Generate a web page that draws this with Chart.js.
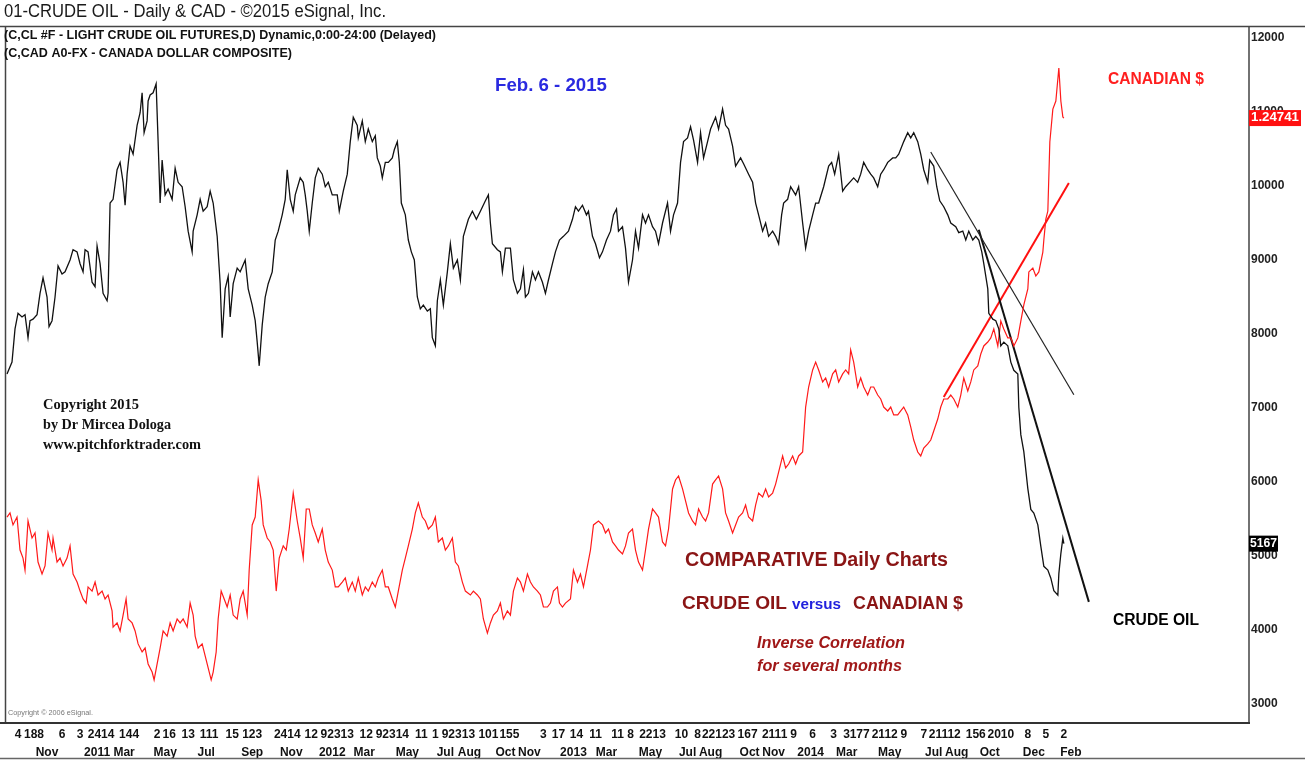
<!DOCTYPE html>
<html>
<head>
<meta charset="utf-8">
<script src="https://cdn.jsdelivr.net/npm/chart.js@4.4.1/dist/chart.umd.min.js"></script>
<style>
html, body { margin: 0; padding: 0; background: #fff; }
#wrap { width: 1305px; height: 760px; }
</style>
</head>
<body>
<div id="wrap"><canvas id="chart" width="1305" height="760"></canvas></div>
<script>
'use strict';

// x unit = bar index (about one week per unit)
const oilIdx = [
  0.2,1.2,1.8,2.4,3.2,3.8,4.4,4.8,5.4,6.2,
  6.8,7.4,8.2,8.6,9.2,9.8,10.4,11.2,11.8,12.8,
  13.4,14.2,14.8,15.4,15.8,16.4,17.2,17.8,18.2,18.8,
  19.4,20.2,20.4,20.8,21.4,22.2,22.8,23.4,23.8,24.2,
  24.8,25.4,26.2,26.8,27.2,27.6,28.2,28.4,28.8,29.4,
  30.0,30.4,30.8,31.2,31.8,32.4,33.2,33.8,34.4,35.2,
  35.8,36.4,37.2,37.4,38.2,38.8,39.4,40.2,40.8,41.4,
  42.2,42.8,43.2,43.8,44.4,44.8,45.4,46.2,46.8,47.8,
  48.4,49.2,49.8,50.2,50.6,51.2,51.8,52.4,53.2,53.8,
  54.4,55.2,55.8,56.2,56.8,57.4,57.8,58.8,59.4,59.8,
  60.2,60.6,61.2,61.8,62.4,63.2,63.8,64.4,65.2,66.2,
  66.6,67.4,68.2,68.8,69.4,70.2,70.4,71.2,71.8,72.4,
  73.2,73.8,74.2,74.8,75.2,75.8,76.4,77.2,77.6,78.2,
  78.6,79.0,79.8,80.4,81.0,81.6,82.2,82.8,83.4,84.2,
  84.8,85.2,85.8,86.2,86.8,87.4,88.2,88.8,89.4,90.2,
  90.8,91.4,92.4,93.2,94.0,94.8,95.8,96.4,96.8,97.2,
  98.2,98.8,99.2,99.8,100.8,101.4,102.2,102.8,103.4,103.8,
  104.4,105.2,105.8,106.4,107.2,107.8,108.4,109.2,109.8,110.6,
  111.4,112.4,113.2,113.8,114.4,115.2,116.0,116.4,117.2,117.8,
  118.6,119.2,120.0,120.8,121.4,122.0,122.4,123.2,123.8,124.4,
  125.2,125.8,126.4,127.2,127.8,128.4,129.2,129.8,130.4,131.2,
  132.2,132.8,133.4,134.2,134.8,135.4,136.2,136.8,137.4,138.2,
  138.8,139.4,140.2,140.8,141.8,142.4,143.2,143.8,144.4,145.2,
  145.8,146.8,147.4,148.4,149.2,149.8,150.4,151.2,151.8,152.4,
  153.2,153.8,154.4,155.0,155.4,156.2,156.8,157.8,158.4,159.2,
  159.8,160.4,161.2,161.8,162.4,163.4,164.4,165.0,165.6,166.4,
  167.2,167.8,168.6,169.4,170.2,170.8,171.4,172.2,172.8,173.4,
  174.2,174.8,175.4,176.2,177.2,177.8,178.4,179.4,180.2,180.8,
  181.4,182.2,182.8,183.4,184.2,184.6,185.4,186.0,186.6,187.4,
  188.2,188.8,189.8,190.4,191.2,191.8,192.4,193.2,193.8,194.4,
  195.0,195.4,196.2,196.4,197.2,197.8,198.4,198.8,199.4,200.2,
  200.8,201.4,202.2,202.4,202.8,203.4,204.2,204.8,205.4,206.2,
  206.8,207.4,208.2,208.8,209.4,210.2,210.4,210.8,211.2,211.4
];
const oilClose = [
  7460,7620,8070,8280,8230,8260,7950,8180,8200,8260,
  8550,8760,8500,8100,8180,8500,8920,8810,8840,9000,
  9140,9110,8950,8840,9140,9110,8700,8640,9190,8950,
  8550,8450,8550,9770,9820,10220,10320,10050,9740,10160,
  10540,10430,10820,10990,11260,10720,10880,11150,11230,11260,
  11380,10600,9770,10350,9880,9960,9820,10240,10050,9990,
  9720,9390,9110,9390,9610,9820,9660,9720,9930,9770,
  9320,8680,7950,8610,8780,8230,8680,8890,8840,9000,
  8610,8390,8180,7890,7570,8120,8500,8680,8840,9270,
  9390,9610,9820,10220,9820,9660,9880,10110,10050,9880,
  9660,9390,9770,10110,10240,10160,9990,10050,9880,9880,
  9660,9930,10160,10600,10930,10820,10650,10880,10600,10770,
  10600,10680,10380,10270,10110,10320,10320,10380,10490,10600,
  10320,9770,9610,9270,9110,9000,8500,8340,8390,8310,
  8340,7950,7840,8450,8730,8390,8840,9220,8890,9000,
  8730,9320,9550,9660,9550,9660,9800,9880,9500,9220,
  9140,9110,8840,9160,9160,8730,8550,8610,8870,8500,
  8550,8840,8730,8840,8700,8550,8730,8950,9110,9270,
  9320,9390,9550,9720,9660,9740,9610,9660,9320,9220,
  9030,9110,9270,9390,9610,9690,9390,9450,9160,8700,
  9000,9390,9160,9610,9500,9610,9450,9390,9220,9500,
  9770,9390,9610,9770,10320,10600,10650,10800,10620,10320,
  10720,10380,10600,10770,10930,10770,11040,10820,10770,10540,
  10270,10380,10300,10160,10050,9770,9610,9390,9500,9320,
  9390,9320,9220,9610,9770,9820,9990,9880,9990,9500,
  9160,9390,9610,9770,9770,9990,10270,10320,10160,10430,
  9930,9990,10050,10110,10050,10160,10320,10220,10160,10110,
  9990,10160,10220,10320,10380,10380,10430,10600,10720,10650,
  10720,10600,10430,10220,10050,10350,10270,9990,9800,9720,
  9610,9500,9450,9370,9390,9270,9390,9270,9320,9270,
  9110,8950,8610,8280,8200,8180,8070,7840,7890,7840,
  7620,7510,7460,7010,6640,6410,5910,5630,5580,5420,
  5130,4860,4810,4700,4530,4470,4760,5030,5240,5167
];

const cadIdx = [
  0.2,0.8,1.4,2.2,2.8,3.4,3.8,4.4,5.2,5.8,
  6.4,7.2,7.8,8.4,9.2,9.4,10.2,10.8,11.4,12.2,
  12.8,13.4,14.2,14.8,15.4,16.0,16.4,17.2,17.8,18.4,
  19.2,19.8,20.4,21.2,21.4,22.2,22.8,23.4,24.0,24.4,
  25.2,25.8,26.4,27.2,27.8,28.4,29.2,29.6,30.2,30.8,
  31.4,32.2,32.8,33.4,34.2,34.8,35.4,36.2,36.8,37.4,
  37.8,38.4,39.2,39.8,40.4,41.0,41.4,42.0,42.4,43.0,
  43.6,44.2,44.8,45.4,46.2,46.8,47.4,48.2,48.6,49.2,
  49.8,50.4,51.0,51.4,52.2,52.8,53.4,54.0,54.6,55.4,
  56.0,56.6,57.4,58.2,58.8,59.4,60.0,60.6,61.2,61.8,
  62.4,63.2,63.8,64.4,65.2,65.8,66.4,67.2,67.8,68.4,
  69.2,69.8,70.4,71.2,71.8,72.4,73.2,73.8,74.4,75.2,
  75.8,76.4,77.2,77.8,78.4,79.2,79.8,80.4,81.2,81.8,
  82.4,83.2,83.8,84.4,85.2,85.8,86.4,87.2,87.8,88.4,
  89.2,89.8,90.4,91.2,91.8,92.8,93.4,94.2,94.8,95.4,
  96.2,96.8,97.4,98.2,98.8,99.4,100.2,100.8,101.4,102.2,
  102.8,103.4,104.2,104.8,105.4,106.2,106.8,107.4,108.2,108.8,
  109.4,110.2,110.6,111.2,111.8,112.8,113.4,114.2,114.8,115.4,
  116.2,116.8,117.4,118.4,119.2,119.8,120.4,121.2,121.8,122.4,
  123.2,123.8,124.4,125.2,125.8,126.4,127.2,127.8,128.4,129.2,
  129.8,130.4,131.2,131.8,132.4,133.2,133.8,134.4,135.2,135.8,
  136.4,137.2,137.8,138.4,139.2,139.8,140.4,141.2,141.8,142.4,
  143.2,143.8,144.4,145.2,145.8,146.4,147.2,147.8,148.4,149.2,
  149.8,150.4,151.2,151.8,152.4,153.2,153.8,154.4,155.2,155.8,
  156.4,157.2,157.8,158.4,159.2,159.8,160.4,161.2,161.8,162.4,
  163.2,163.8,164.4,165.2,165.8,166.4,167.2,167.8,168.4,168.8,
  169.4,170.2,170.8,171.4,172.2,172.8,173.4,174.2,174.8,175.4,
  176.2,176.8,177.4,178.2,178.8,179.4,180.2,180.8,181.4,182.2,
  182.8,183.4,184.2,184.8,185.4,186.2,186.8,187.4,188.2,188.8,
  189.4,190.2,190.8,191.4,192.2,192.8,193.4,194.2,194.8,195.4,
  196.2,196.8,197.4,198.2,198.8,199.4,200.2,200.8,201.4,202.2,
  202.8,203.4,204.2,204.4,205.2,205.8,206.4,207.2,207.4,207.8,
  208.2,208.6,209.2,209.8,210.4,210.8,211.2,211.4
];
const cadClose = [
  1.0345,1.0367,1.0303,1.0345,1.0169,1.0126,1.0062,1.0324,1.0233,1.0260,
  1.0105,1.0041,1.0084,1.0260,1.0169,1.0233,1.0105,1.0126,1.0084,1.0126,
  1.0191,1.0041,0.9998,0.9950,0.9908,0.9886,0.9972,0.9950,0.9998,0.9929,
  0.9950,0.9908,0.9929,0.9844,0.9758,0.9780,0.9737,0.9822,0.9908,0.9801,
  0.9780,0.9737,0.9668,0.9625,0.9646,0.9561,0.9518,0.9476,0.9561,0.9646,
  0.9737,0.9710,0.9780,0.9737,0.9801,0.9780,0.9801,0.9758,0.9886,0.9822,
  0.9710,0.9646,0.9668,0.9604,0.9540,0.9476,0.9518,0.9625,0.9801,0.9950,
  0.9908,0.9865,0.9929,0.9822,0.9801,0.9908,0.9950,0.9822,1.0062,1.0303,
  1.0345,1.0543,1.0431,1.0303,1.0233,1.0212,1.0169,0.9950,1.0126,1.0191,
  1.0169,1.0281,1.0473,1.0324,1.0233,1.0126,1.0388,1.0388,1.0303,1.0260,
  1.0212,1.0281,1.0169,1.0105,1.0062,0.9972,0.9972,0.9998,1.0020,0.9950,
  0.9998,0.9950,1.0020,0.9929,0.9972,0.9950,0.9998,0.9972,1.0020,1.0062,
  0.9972,0.9972,0.9908,0.9865,0.9950,1.0062,1.0126,1.0191,1.0281,1.0367,
  1.0420,1.0345,1.0324,1.0281,1.0303,1.0345,1.0212,1.0233,1.0169,1.0191,
  1.0233,1.0105,1.0084,0.9998,0.9950,0.9929,0.9950,0.9929,0.9908,0.9801,
  0.9726,0.9780,0.9822,0.9844,0.9886,0.9801,0.9844,0.9822,0.9950,1.0020,
  0.9998,0.9950,1.0041,0.9998,0.9972,0.9950,0.9929,0.9865,0.9865,0.9886,
  0.9950,0.9972,0.9886,0.9865,0.9886,0.9908,1.0062,0.9998,1.0041,0.9972,
  1.0084,1.0169,1.0303,1.0324,1.0303,1.0260,1.0281,1.0212,1.0191,1.0169,
  1.0148,1.0191,1.0260,1.0281,1.0169,1.0105,1.0062,1.0169,1.0281,1.0388,
  1.0367,1.0345,1.0212,1.0191,1.0281,1.0495,1.0543,1.0564,1.0495,1.0431,
  1.0367,1.0324,1.0303,1.0388,1.0345,1.0324,1.0367,1.0521,1.0543,1.0564,
  1.0495,1.0367,1.0324,1.0260,1.0303,1.0345,1.0367,1.0409,1.0345,1.0324,
  1.0409,1.0473,1.0452,1.0495,1.0452,1.0473,1.0521,1.0585,1.0671,1.0607,
  1.0628,1.0671,1.0628,1.0671,1.0692,1.0932,1.1039,1.1130,1.1172,1.1130,
  1.1066,1.1087,1.1039,1.1109,1.1130,1.1066,1.1109,1.1130,1.1109,1.1237,
  1.1172,1.1039,1.1087,1.1039,1.0996,1.1039,1.1039,1.0996,1.0975,1.0932,
  1.0911,1.0932,1.0890,1.0890,1.0911,1.0932,1.0890,1.0826,1.0756,1.0692,
  1.0671,1.0713,1.0735,1.0756,1.0804,1.0868,1.0932,1.0975,1.0975,1.0996,
  1.0975,1.0932,1.0996,1.1087,1.1018,1.1066,1.1130,1.1151,1.1215,1.1258,
  1.1279,1.1301,1.1349,1.1258,1.1391,1.1349,1.1301,1.1301,1.1258,1.1301,
  1.1391,1.1477,1.1562,1.1653,1.1674,1.1631,1.1653,1.1759,1.1823,1.1935,
  1.1978,1.2346,1.2522,1.2565,1.2741,1.2565,1.2480,1.24741
];

// hand drawn trend lines: [idx, value] end points
const oilTrendA = [[184.8, 10460], [213.4, 7180]];
const oilTrendB = [[194.4, 9410], [216.4, 4380]];
const cadTrend = [[187.4, 1.0986], [212.4, 1.2127]];

// bottom axis: day numbers row and month row
const dayTickIdx = [2.4,5.6,11.2,14.8,19.0,24.6,30.2,32.6,36.4,40.6,45.2,49.2,56.2,61.0,66.2,72.0,77.2,83.0,
  85.8,90.4,96.4,100.6,107.4,110.4,114.0,117.8,122.2,124.8,129.2,135.0,138.2,142.4,148.2,153.6,157.4,161.2,
  165.4,168.0,170.6,175.6,179.4,183.4,187.6,193.8,198.8,204.2,207.8,211.4];
const dayTickText = ['4','188','6','3','2414','144','2','16','13','111','15','123','2414','12','92313','12','92314','11',
  '1','92313','101','155','3','17','14','11','11','8','2213','10','8','22123','167','2111','9','6',
  '3','3','177','2112','9','7','21112','156','2010','8','5','2'];
const monthTickIdx = [8.2,18.2,23.6,31.8,40.0,49.2,57.0,65.2,71.6,80.2,87.8,92.6,99.8,104.6,113.4,120.0,128.8,
  136.2,140.8,148.6,153.4,160.8,168.0,176.6,185.4,190.0,196.6,205.4,212.8];
const monthTickText = ['Nov','2011','Mar','May','Jul','Sep','Nov','2012','Mar','May','Jul','Aug','Oct','Nov','2013','Mar','May',
  'Jul','Aug','Oct','Nov','2014','Mar','May','Jul','Aug','Oct','Dec','Feb'];

const priceTicks = [3000,4000,5000,6000,7000,8000,9000,10000,11000,12000];
const lastOil = 5167;
const lastCad = '1.24741';

const SANS = '"Liberation Sans", Arial, sans-serif';
const SERIF = '"Liberation Serif", "Times New Roman", serif';

function pairs(xs, ys){
    var out = [];
    for( var i = 0 ; i < xs.length ; i++ ) out.push({ x: xs[i], y: ys[i] });
    return out;
}

function fitText(ctx, str, x, y, width, font, color){
    ctx.save();
    ctx.font = font;
    var w = ctx.measureText(str).width;
    ctx.translate(x, y);
    ctx.scale(width / w, 1);
    ctx.fillStyle = color;
    ctx.textAlign = 'left';
    ctx.textBaseline = 'middle';
    ctx.fillText(str, 0, 0);
    ctx.restore();
}

const notes = [
    { t: '01-CRUDE OIL - Daily & CAD - \u00A92015 eSignal, Inc.', x: 4, y: 12, w: 382, f: '18px ' + SANS, c: '#1a1a1a' },
    { t: '(C,CL #F - LIGHT CRUDE OIL FUTURES,D) Dynamic,0:00-24:00 (Delayed)', x: 4, y: 36, w: 432, f: 'bold 12px ' + SANS, c: '#111' },
    { t: '(C,CAD A0-FX - CANADA DOLLAR COMPOSITE)', x: 4, y: 54, w: 288, f: 'bold 12px ' + SANS, c: '#111' },
    { t: 'Feb. 6 - 2015', x: 495, y: 86, w: 112, f: 'bold 19px ' + SANS, c: '#2a2ae0' },
    { t: 'CANADIAN $', x: 1108, y: 80, w: 96, f: 'bold 16px ' + SANS, c: '#ff1f1f' },
    { t: 'CRUDE OIL', x: 1113, y: 621, w: 86, f: 'bold 16px ' + SANS, c: '#000' },
    { t: 'COMPARATIVE Daily Charts', x: 685, y: 560, w: 263, f: 'bold 20px ' + SANS, c: '#8a1515' },
    { t: 'CRUDE OIL', x: 682, y: 604, w: 105, f: 'bold 18px ' + SANS, c: '#8a1515' },
    { t: 'versus', x: 792, y: 605, w: 49, f: 'bold 15px ' + SANS, c: '#2222dd' },
    { t: 'CANADIAN $', x: 853, y: 604, w: 110, f: 'bold 18px ' + SANS, c: '#8a1515' },
    { t: 'Inverse Correlation', x: 757, y: 644, w: 148, f: 'italic bold 16px ' + SANS, c: '#a01818' },
    { t: 'for several months', x: 757, y: 667, w: 145, f: 'italic bold 16px ' + SANS, c: '#a01818' },
    { t: 'Copyright 2015', x: 43, y: 405, w: 96, f: 'bold 14px ' + SERIF, c: '#111' },
    { t: 'by Dr Mircea Dologa', x: 43, y: 425, w: 128, f: 'bold 14px ' + SERIF, c: '#111' },
    { t: 'www.pitchforktrader.com', x: 43, y: 445, w: 158, f: 'bold 14px ' + SERIF, c: '#111' },
    { t: 'Copyright \u00A9 2006 eSignal.', x: 8, y: 713, w: 85, f: '7px ' + SANS, c: '#777' }
];

const decor = {
    id: 'decor',
    afterDraw: function(chart){
        var ctx = chart.ctx;
        var a = chart.chartArea;
        ctx.save();
        // frame
        ctx.strokeStyle = '#444';
        ctx.lineWidth = 1.5;
        ctx.beginPath();
        ctx.moveTo(0, a.top - 0.5); ctx.lineTo(1305, a.top - 0.5);
        ctx.moveTo(a.left + 0.5, a.top); ctx.lineTo(a.left + 0.5, a.bottom);
        ctx.moveTo(a.right, a.top); ctx.lineTo(a.right, a.bottom);
        ctx.stroke();
        ctx.lineWidth = 2;
        ctx.strokeStyle = '#333';
        ctx.beginPath();
        ctx.moveTo(0, a.bottom); ctx.lineTo(a.right + 1, a.bottom);
        ctx.stroke();
        ctx.lineWidth = 1.5;
        ctx.strokeStyle = '#666';
        ctx.beginPath();
        ctx.moveTo(0, 758.5); ctx.lineTo(1305, 758.5);
        ctx.stroke();

        for( let n of notes ) fitText(ctx, n.t, n.x, n.y, n.w, n.f, n.c);

        // last value tags on the price axis
        var yOil = chart.scales.y.getPixelForValue(lastOil);
        ctx.fillStyle = '#000';
        ctx.fillRect(a.right, yOil - 8, 29, 16);
        fitText(ctx, String(lastOil), a.right + 1, yOil, 27, 'bold 12px ' + SANS, '#fff');
        var yCad = chart.scales.yCad.getPixelForValue(parseFloat(lastCad));
        ctx.fillStyle = '#ff1010';
        ctx.fillRect(a.right, yCad - 8, 52, 16);
        fitText(ctx, lastCad, a.right + 2, yCad, 48, 'bold 12px ' + SANS, '#fff');
        ctx.restore();
    }
};

const tickFont = { family: SANS, size: 12, weight: 'bold' };

const ctx = document.getElementById('chart').getContext('2d');
const chart = new Chart(ctx, {
    type: 'line',
    data: {
        datasets: [
            { label: 'CL', data: pairs(oilIdx, oilClose), yAxisID: 'y', borderColor: '#111', borderWidth: 1.3 },
            { label: 'CAD', data: pairs(cadIdx, cadClose), yAxisID: 'yCad', borderColor: '#ff1a1a', borderWidth: 1.2 },
            { label: 'trend A', data: oilTrendA.map(p => ({ x: p[0], y: p[1] })), yAxisID: 'y', borderColor: '#222', borderWidth: 1.2 },
            { label: 'trend B', data: oilTrendB.map(p => ({ x: p[0], y: p[1] })), yAxisID: 'y', borderColor: '#111', borderWidth: 2 },
            { label: 'cad trend', data: cadTrend.map(p => ({ x: p[0], y: p[1] })), yAxisID: 'yCad', borderColor: '#ff1010', borderWidth: 2 }
        ]
    },
    options: {
        responsive: false,
        animation: false,
        devicePixelRatio: 1,
        elements: { point: { radius: 0 }, line: { tension: 0 } },
        layout: { padding: { left: 5, top: 27, right: 0, bottom: 0 } },
        plugins: { legend: { display: false }, tooltip: { enabled: false } },
        scales: {
            x: {
                type: 'linear', position: 'bottom', min: -0.2, max: 248.4, weight: 0,
                grid: { display: false, drawTicks: false }, border: { display: false },
                afterBuildTicks: s => { s.ticks = dayTickIdx.map(v => ({ value: v })); },
                afterFit: s => { s.height = 18; },
                ticks: { autoSkip: false, maxRotation: 0, padding: 4, color: '#111', font: tickFont,
                    callback: (v, i) => dayTickText[i] }
            },
            x2: {
                type: 'linear', position: 'bottom', min: -0.2, max: 248.4, weight: 1,
                grid: { display: false, drawTicks: false }, border: { display: false },
                afterBuildTicks: s => { s.ticks = monthTickIdx.map(v => ({ value: v })); },
                afterFit: s => { s.height = 19; },
                ticks: { autoSkip: false, maxRotation: 0, padding: 4, color: '#111', font: tickFont,
                    callback: (v, i) => monthTickText[i] }
            },
            y: {
                type: 'linear', position: 'right', min: 2743, max: 12149,
                grid: { display: false, drawTicks: false }, border: { display: false },
                afterBuildTicks: s => { s.ticks = priceTicks.map(v => ({ value: v })); },
                afterFit: s => { s.width = 56; },
                ticks: { padding: 2, color: '#222', font: { family: SANS, size: 12, weight: 'bold' },
                    callback: v => String(v) }
            },
            yCad: { type: 'linear', display: false, min: 0.9246, max: 1.2960 }
        }
    },
    plugins: [decor]
});
</script>
</body>
</html>
